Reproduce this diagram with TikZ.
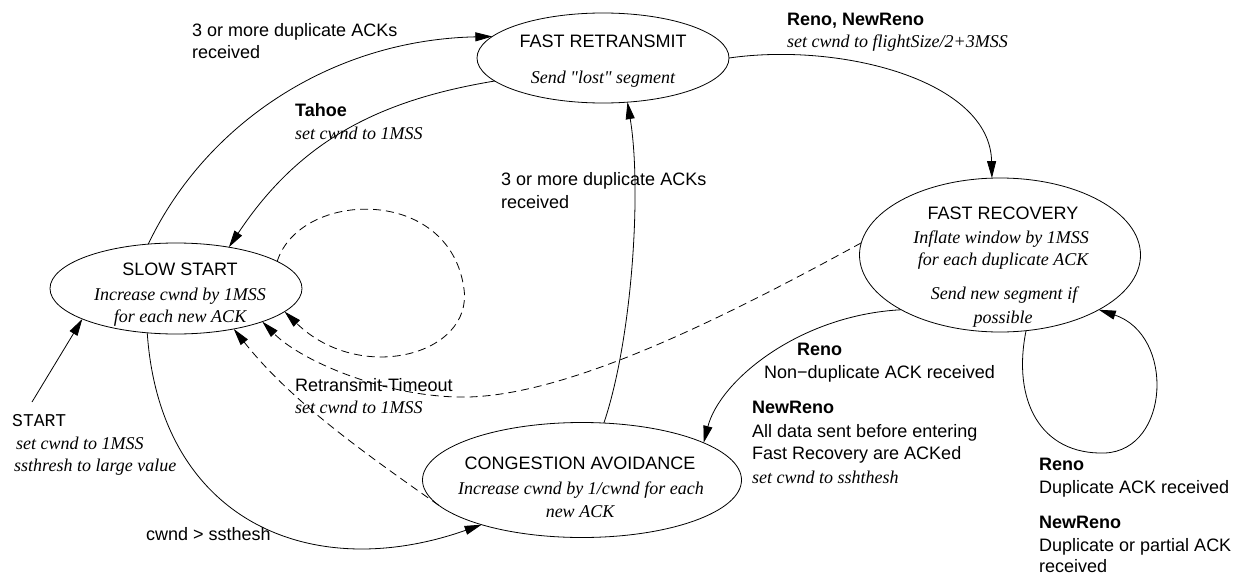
\documentclass[tikz,border=0pt]{standalone}
\usepackage{fontspec}
\setmainfont{Liberation Serif}[Ligatures=TeXOff]
\setsansfont{Liberation Sans}
\setmonofont{Liberation Mono}
\usetikzlibrary{shapes.geometric,arrows.meta}
\begin{document}
\begin{tikzpicture}[x=1pt,y=-1pt,
  statebox/.style={ellipse, draw, line width=0.8pt, inner sep=0pt, outer sep=0pt},
  txt/.style={font=\sffamily\fontsize{18}{22}\selectfont, inner sep=0pt, anchor=base west},
  txtbf/.style={font=\sffamily\bfseries\fontsize{18}{22}\selectfont, inner sep=0pt, anchor=base west},
  txtit/.style={font=\rmfamily\itshape\fontsize{18}{22}\selectfont, inner sep=0pt, anchor=base west},
  txttt/.style={font=\ttfamily\fontsize{18}{22}\selectfont, inner sep=0pt, anchor=base west},
  ctxt/.style={txt, anchor=base},
  ctxtit/.style={txtit, anchor=base},
  conn/.style={line width=0.8pt, -{Triangle[length=17pt,width=9pt]}},
  dconn/.style={conn, dash pattern=on 8pt off 5pt}
]
\fill[white] (0,0) rectangle (1242,578);
\useasboundingbox (0,0) rectangle (1242,578);

% states
\node[statebox, minimum width=252pt, minimum height=90pt] (fr) at (603,58) {};
\node[ctxt]   (frA) at (603,48) {FAST RETRANSMIT};
\node[ctxtit] (frB) at (603,83) {Send "lost" segment};

\node[statebox, minimum width=252pt, minimum height=91pt] (ss) at (176,288.5) {};
\node[ctxt]   (ssA) at (180,275) {SLOW START};
\node[ctxtit] (ssB) at (180,300) {Increase cwnd by 1MSS};
\node[ctxtit] (ssC) at (180,322) {for each new ACK};

\node[statebox, minimum width=281pt, minimum height=154pt] (frec) at (1000,255) {};
\node[ctxt]   (frecA) at (1003,219) {FAST RECOVERY};
\node[ctxtit] (frecB) at (1001,243) {Inflate window by 1MSS};
\node[ctxtit] (frecC) at (1003,265) {for each duplicate ACK};
\node[ctxtit] (frecD) at (1004,299) {Send new segment if};
\node[ctxtit] (frecE) at (1003,323) {possible};

\node[statebox, minimum width=319pt, minimum height=115pt] (ca) at (582,480) {};
\node[ctxt]   (caA) at (580,469) {CONGESTION AVOIDANCE};
\node[ctxtit] (caB) at (581,494) {Increase cwnd by 1/cwnd for each};
\node[ctxtit] (caC) at (580,517) {new ACK};

% labels
\node[txt] (l1a) at (192,37) {3 or more duplicate ACKs};
\node[txt] (l1b) at (192,59) {received};
\node[txtbf] (l2a) at (295,116) {Tahoe};
\node[txtit] (l2b) at (295,139) {set cwnd to 1MSS};
\node[txtbf] (l3a) at (787,26) {Reno, NewReno};
\node[txtit] (l3b) at (787,48) {set cwnd to flightSize/2+3MSS};
\node[txt] (l4a) at (501,185) {3 or more duplicate ACKs};
\node[txt] (l4b) at (501,208) {received};
\node[txttt] (l5a) at (12,426) {START};
\node[txtit] (l5b) at (16,449) {set cwnd to 1MSS};
\node[txtit] (l5c) at (14,471) {ssthresh to large value};
\node[txt] (l6) at (146,540) {cwnd > ssthesh};
\node[txt] (l7a) at (295,391) {Retransmit-Timeout};
\node[txtit] (l7b) at (295,413) {set cwnd to 1MSS};
\node[txtbf] (l8a) at (797,355) {Reno};
\node[txt] (l8b) at (764,378) {Non−duplicate ACK received};
\node[txtbf] (l8c) at (752,413) {NewReno};
\node[txt] (l8d) at (752,437) {All data sent before entering};
\node[txt] (l8e) at (752,459) {Fast Recovery are ACKed};
\node[txtit] (l8f) at (752,483) {set cwnd to sshthesh};
\node[txtbf] (l9a) at (1039,470) {Reno};
\node[txt] (l9b) at (1039,493) {Duplicate ACK received};
\node[txtbf] (l9c) at (1039,528) {NewReno};
\node[txt] (l9d) at (1039,551) {Duplicate or partial ACK};
\node[txt] (l9e) at (1039,572) {received};

\coordinate (startpt) at (32,402);

% connectors
\draw[conn] (ss.122) .. controls (205,125) and (330,40) .. (fr.169);
\draw[conn] (fr.-168) .. controls (380,100) and (300,140) .. (ss.38);
\draw[conn] (fr.0) .. controls (840,42) and (990,80) .. (frec.96);
\draw[conn] (ca.69) .. controls (632,340) and (642,190) .. (fr.-61);
\draw[conn] (ss.-123) .. controls (160,520) and (310,585) .. (ca.-156);
\draw[conn] (frec.-151) .. controls (800,315) and (720,380) .. (ca.17);
\draw[conn] (frec.-71) .. controls (1012,400) and (1040,455) .. (1105,453)
   .. controls (1170,450) and (1175,335) .. (frec.-29);
\draw[conn] (startpt) -- (ss.-162);
\draw[dconn] (ss.15) .. controls (300,190) and (450,185) .. (464,289)
   .. controls (473,355) and (360,385) .. (ss.-12);
\draw[dconn] (frec.175) .. controls (720,320) and (560,400) .. (457,397)
   .. controls (380,395) and (300,360) .. (ss.-21);
\draw[dconn] (ca.-170) .. controls (360,450) and (290,400) .. (ss.-35);
\end{tikzpicture}
\end{document}
